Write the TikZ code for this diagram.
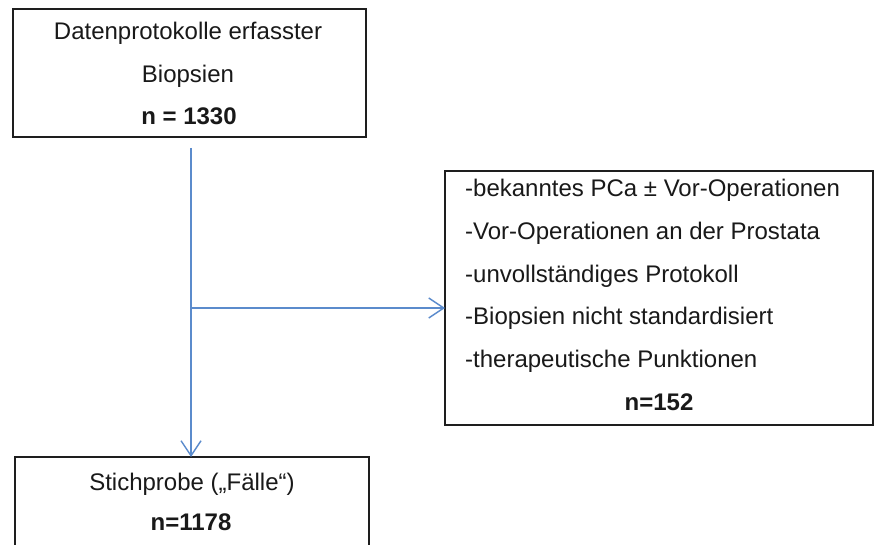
\documentclass[tikz,border=0pt]{standalone}
\usepackage{fontspec}
\setmainfont{Liberation Sans}
\usetikzlibrary{arrows.meta}
\definecolor{connblue}{RGB}{91,139,204}
\definecolor{framecol}{RGB}{30,30,30}
\begin{document}
\begin{tikzpicture}[x=1pt,y=1pt,
  frame/.style={draw=framecol, line width=1.3pt, inner sep=0pt, outer sep=0pt},
  txt/.style={inner sep=0pt, font=\fontsize{24}{29}\selectfont, text=black!90, anchor=base},
  ltxt/.style={txt, anchor=base west},
  conn/.style={draw=connblue, line width=1.4pt, -{Straight Barb[length=15pt,width=20pt,line width=1.4pt]}}]
\useasboundingbox (0,0) rectangle (876,-545);
\fill[white] (0,0) rectangle (876,-545);
\clip (0,0) rectangle (876,-545);
% box 1
\node[frame, minimum width=353pt, minimum height=128pt] (b1) at (189.5,-73) {};
\node[txt] (b1a) at (188,-40) {Datenprotokolle erfasster};
\node[txt] (b1b) at (188,-83) {Biopsien};
\node[txt] (b1c) at (189,-125) {\bfseries n = 1330};
% box 2
\node[frame, minimum width=428pt, minimum height=254pt] (b2) at (659,-298) {};
\node[ltxt] (b2a) at (465,-197) {-bekanntes PCa ± Vor-Operationen};
\node[ltxt] (b2b) at (465,-239.6) {-Vor-Operationen an der Prostata};
\node[ltxt] (b2c) at (465,-282.2) {-unvollständiges Protokoll};
\node[ltxt] (b2d) at (465,-324.8) {-Biopsien nicht standardisiert};
\node[ltxt] (b2e) at (465,-367.4) {-therapeutische Punktionen};
\node[txt] (b2f) at (659,-410) {\bfseries n=152};
% box 3
\node[frame, minimum width=354pt, minimum height=130pt, anchor=north] (b3) at (192,-457) {};
\node[txt] (b3a) at (192,-490) {Stichprobe („Fälle“)};
\node[txt] (b3b) at (191,-530) {\bfseries n=1178};
% connectors
\coordinate (split) at (191,-308);
\draw[conn] ([yshift=-11pt]b1.south -| split) -- (b3.north -| split);
\draw[conn] (split) -- (split -| b2.west);
\end{tikzpicture}
\end{document}
